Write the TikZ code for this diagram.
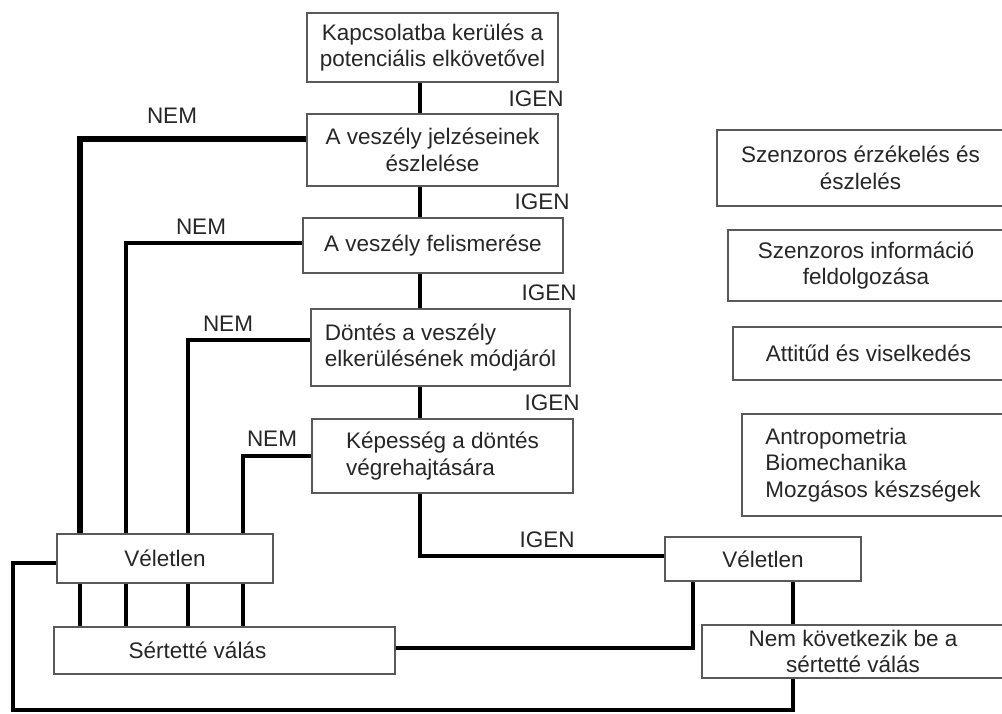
\documentclass[tikz,border=0pt]{standalone}
\usepackage{fontspec}
\setmainfont{Liberation Sans}
\usepackage{tikz}
\usetikzlibrary{positioning}

\begin{document}
\begin{tikzpicture}[x=1pt,y=-1pt,
    box/.style={rectangle,draw=black!65,line width=1.6pt,inner sep=0pt,
        align=center,text=black!85,font=\fontsize{22.5}{26.5}\selectfont},
    lbox/.style={box,align=left},
    conn/.style={line width=4pt,black},
    lbl/.style={text=black!85,font=\fontsize{22.5}{26.5}\selectfont}]
        \useasboundingbox (0,0) rectangle (1002,714);

        % 创建中间一列
        \node[box,minimum width=251,minimum height=69] (kapcs) at (432.5,47.5) {Kapcsolatba kerülés a\\potenciális elkövetővel};
        \node[box,minimum width=251,minimum height=72] (jelz) at (432.5,150) {A veszély jelzéseinek\\észlelése};
        \node[box,minimum width=260,minimum height=55] (felism) at (433,245.5) {A veszély felismerése};
        \node[lbox,minimum width=259,minimum height=77] (dontes) at (440.5,347.5) {Döntés a veszély\\elkerülésének módjáról};
        \node[lbox,minimum width=261,minimum height=74] (kepes) at (442.5,456) {Képesség a döntés\\végrehajtására};

        % 添加下方的框
        \node[box,minimum width=216,minimum height=49] (velL) at (165,558.5) {Véletlen};
        \node[box,minimum width=341,minimum height=47] (sert) at (224.5,650.5) {\hspace*{-54pt}Sértetté válás};
        \node[box,minimum width=196,minimum height=44] (velR) at (763,559) {Véletlen};
        \node[box,minimum width=302,minimum height=53] (nemkov) at (853,651.5) {Nem következik be a\\sértetté válás};

        % 添加右侧一列
        \node[box,minimum width=287,minimum height=76] (szenz) at (860.5,168) {Szenzoros érzékelés és\\észlelés};
        \node[box,minimum width=276,minimum height=71] (info) at (866,265.5) {Szenzoros információ\\feldolgozása};
        \node[box,minimum width=271,minimum height=53] (attit) at (868.5,353.5) {Attitűd és viselkedés};
        \node[lbox,minimum width=262,minimum height=102] (antro) at (873,465) {Antropometria\\Biomechanika\\Mozgásos készségek};

        % 添加坐标
        \coordinate (spine) at (420,0);
        \coordinate (c1) at (80,0);
        \coordinate (c2) at (126,0);
        \coordinate (c3) at (188,0);
        \coordinate (c4) at (243,0);
        \coordinate (r1) at (693,0);
        \coordinate (r2) at (793,0);
        \coordinate (lb) at (13,710);
        \coordinate (rb) at (793,710);

        % 添加IGEN连接线
        \draw[conn] (kapcs.south -| spine) -- (jelz.north -| spine);
        \draw[conn] (jelz.south -| spine) -- (felism.north -| spine);
        \draw[conn] (felism.south -| spine) -- (dontes.north -| spine);
        \draw[conn] (dontes.south -| spine) -- (kepes.north -| spine);
        \draw[conn] (kepes.south -| spine) |- ([yshift=3pt]velR.west);

        % 添加NEM连接线
        \draw[conn,line width=5.5pt] ([yshift=11pt]jelz.west) -| (c1 |- velL.north);
        \draw[conn] ([yshift=2pt]felism.west) -| (c2 |- velL.north);
        \draw[conn] ([yshift=8pt]dontes.west) -| (c3 |- velL.north);
        \draw[conn] (kepes.west) -| (c4 |- velL.north);
        \foreach \c in {c1,c2,c3,c4}
            \draw[conn] (\c |- velL.south) -- (\c |- sert.north);

        % 添加下方连接线
        \draw[conn] ([yshift=-4pt]velL.west) -| (lb) -- (rb) -- (rb |- nemkov.south);
        \draw[conn] ([yshift=3pt]sert.east) -| (r1 |- velR.south);
        \draw[conn] (r2 |- velR.south) -- (r2 |- nemkov.north);

        % 添加标签
        \node[lbl] (igen1) at (536,99) {IGEN};
        \node[lbl] (igen2) at (542,202) {IGEN};
        \node[lbl] (igen3) at (549,293) {IGEN};
        \node[lbl] (igen4) at (552,403) {IGEN};
        \node[lbl] (igen5) at (547,540) {IGEN};
        \node[lbl] (nem1) at (172,116) {NEM};
        \node[lbl] (nem2) at (201,227) {NEM};
        \node[lbl] (nem3) at (228,324) {NEM};
        \node[lbl] (nem4) at (272,439) {NEM};
    \end{tikzpicture}
\end{document}
